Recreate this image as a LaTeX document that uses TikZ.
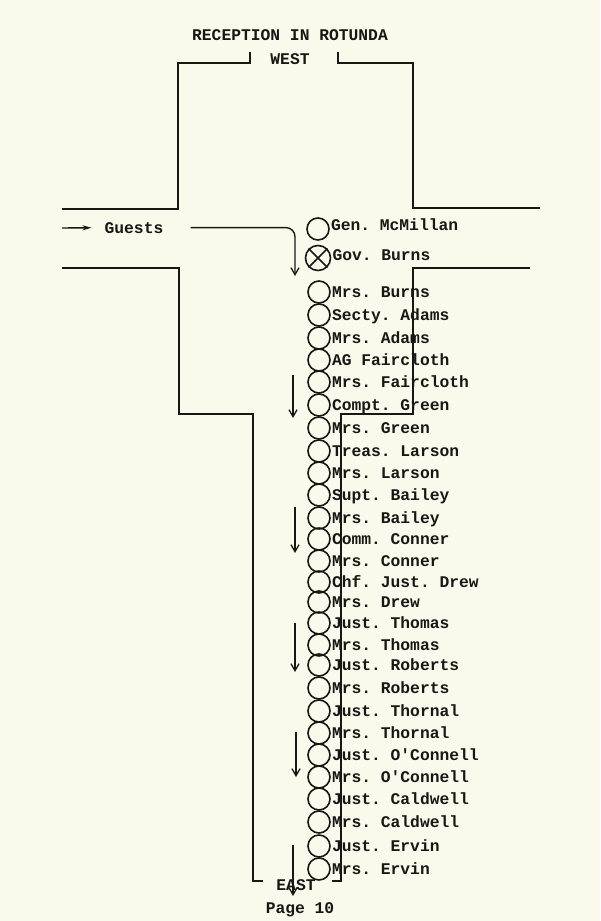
\documentclass[tikz,border=0pt]{standalone}
\usepackage{fontspec}
\setmonofont{Liberation Mono}
\usetikzlibrary{arrows.meta}
\definecolor{papier}{RGB}{251,249,236}
\definecolor{tinte}{RGB}{25,22,20}
\begin{document}
\begin{tikzpicture}[x=1pt, y=-1pt, >={Straight Barb[length=7pt, width=8pt, line width=1.3pt]}, tinte,
  txt/.style={font=\ttfamily\bfseries\fontsize{16.3}{18}\selectfont, text=tinte, inner sep=0pt, anchor=base},
  nm/.style={txt, anchor=base west, xshift=1pt, yshift=-5.5pt},
  gast/.style={circle, draw=tinte, line width=1.6pt, minimum size=22pt, inner sep=0pt},
  wand/.style={line width=1.6pt},
  pfeil/.style={->, line width=1.4pt}]
% Papier, Format 600 x 921
\fill[papier] (0,0) rectangle (600,921);
\useasboundingbox (0,0) rectangle (600,921);
\def\xk{319}  % Mitte der Kreise
% Ueberschrift
\node[txt] (titel) at (290,40) {RECEPTION IN ROTUNDA};
\node[txt] (west)  at (290,64) {WEST};
\node[txt] (east)  at (296,890) {EAST};
\node[txt] (seite) at (300,913) {Page 10};
% Waende der Rotunde
\draw[wand] (250,52) -- (250,63) -- (178,63) -- (178,209) -- (62,209);
\draw[wand] (338,52) -- (338,63) -- (413,63) -- (413,208) -- (540,208);
\draw[wand] (62,268) -- (179,268) -- (179,414) -- (253,414) -- (253,881) -- (263,881);
\draw[wand] (530,268) -- (413,268) -- (413,414) -- (341,414) -- (341,881) -- (332,881);
% Gaeste
\coordinate (e0) at (62,228);
\coordinate (b0) at (295,276);
\node[txt] (gs) at (134,233) {Guests};
\draw[line width=1.4pt, -{Stealth[length=9pt, width=5pt]}, shorten >=13pt] (e0) -- (gs.west);
\draw[pfeil, rounded corners=9pt, shorten <=27pt] (gs.east) -| (b0);
% Empfangslinie
\node[gast] (k0) at (318,229) {};
\node[nm, yshift=4pt] (n0) at (k0.east) {Gen. McMillan};
\node[gast, minimum size=25pt] (kg) at (318,258) {};
\draw[line width=1.6pt] (kg.north west) -- (kg.south east);
\draw[line width=1.6pt] (kg.north east) -- (kg.south west);
\node[nm, yshift=3pt] (ng) at (kg.east) {Gov. Burns};
\node[gast] (k1)  at (\xk,292) {}; \node[nm] (n1)  at (k1.east)  {Mrs. Burns};
\node[gast] (k2)  at (\xk,315) {}; \node[nm] (n2)  at (k2.east)  {Secty. Adams};
\node[gast] (k3)  at (\xk,338) {}; \node[nm] (n3)  at (k3.east)  {Mrs. Adams};
\node[gast] (k4)  at (\xk,360) {}; \node[nm] (n4)  at (k4.east)  {AG Faircloth};
\node[gast] (k5)  at (\xk,382) {}; \node[nm] (n5)  at (k5.east)  {Mrs. Faircloth};
\node[gast] (k6)  at (\xk,405) {}; \node[nm] (n6)  at (k6.east)  {Compt. Green};
\node[gast] (k7)  at (\xk,428) {}; \node[nm] (n7)  at (k7.east)  {Mrs. Green};
\node[gast] (k8)  at (\xk,451) {}; \node[nm] (n8)  at (k8.east)  {Treas. Larson};
\node[gast] (k9)  at (\xk,473) {}; \node[nm] (n9)  at (k9.east)  {Mrs. Larson};
\node[gast] (k10) at (\xk,495) {}; \node[nm] (n10) at (k10.east) {Supt. Bailey};
\node[gast] (k11) at (\xk,518) {}; \node[nm] (n11) at (k11.east) {Mrs. Bailey};
\node[gast] (k12) at (\xk,539) {}; \node[nm] (n12) at (k12.east) {Comm. Conner};
\node[gast] (k13) at (\xk,561) {}; \node[nm] (n13) at (k13.east) {Mrs. Conner};
\node[gast] (k14) at (\xk,582) {}; \node[nm] (n14) at (k14.east) {Chf. Just. Drew};
\node[gast] (k15) at (\xk,602) {}; \node[nm] (n15) at (k15.east) {Mrs. Drew};
\node[gast] (k16) at (\xk,623) {}; \node[nm] (n16) at (k16.east) {Just. Thomas};
\node[gast] (k17) at (\xk,645) {}; \node[nm] (n17) at (k17.east) {Mrs. Thomas};
\node[gast] (k18) at (\xk,665) {}; \node[nm] (n18) at (k18.east) {Just. Roberts};
\node[gast] (k19) at (\xk,688) {}; \node[nm] (n19) at (k19.east) {Mrs. Roberts};
\node[gast] (k20) at (\xk,711) {}; \node[nm] (n20) at (k20.east) {Just. Thornal};
\node[gast] (k21) at (\xk,733) {}; \node[nm] (n21) at (k21.east) {Mrs. Thornal};
\node[gast] (k22) at (\xk,755) {}; \node[nm] (n22) at (k22.east) {Just. O'Connell};
\node[gast] (k23) at (\xk,777) {}; \node[nm] (n23) at (k23.east) {Mrs. O'Connell};
\node[gast] (k24) at (\xk,799) {}; \node[nm] (n24) at (k24.east) {Just. Caldwell};
\node[gast] (k25) at (\xk,822) {}; \node[nm] (n25) at (k25.east) {Mrs. Caldwell};
\node[gast] (k26) at (\xk,846) {}; \node[nm] (n26) at (k26.east) {Just. Ervin};
\node[gast] (k27) at (\xk,869) {}; \node[nm] (n27) at (k27.east) {Mrs. Ervin};
% Gehrichtung
\coordinate (a1o) at (293,375); \coordinate (a1u) at (293,418);
\coordinate (a2o) at (295,507); \coordinate (a2u) at (295,553);
\coordinate (a3o) at (295,623); \coordinate (a3u) at (295,672);
\coordinate (a4o) at (296,732); \coordinate (a4u) at (296,777);
\coordinate (a5o) at (293,845); \coordinate (a5u) at (293,896);
\draw[pfeil] (a1o) -- (a1u);
\draw[pfeil] (a2o) -- (a2u);
\draw[pfeil] (a3o) -- (a3u);
\draw[pfeil] (a4o) -- (a4u);
\draw[pfeil] (a5o) -- (a5u);
\end{tikzpicture}
\end{document}
